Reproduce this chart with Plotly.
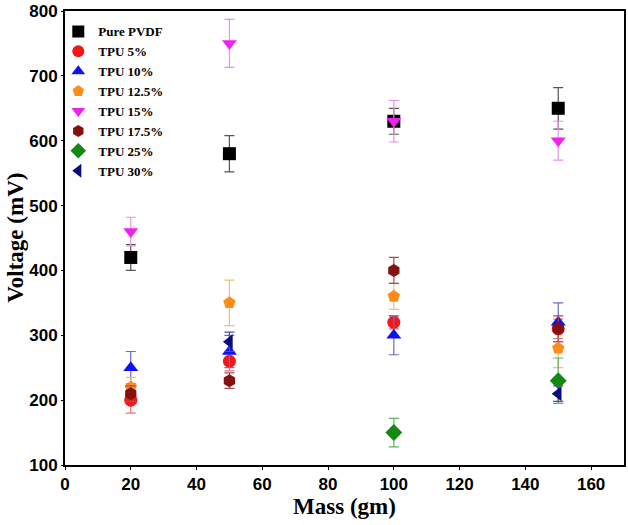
import plotly.graph_objects as go

mass = [20, 50, 100, 150]

series_names = ["Pure PVDF", "TPU 5%", "TPU 10%", "TPU 12.5%", "TPU 15%", "TPU 17.5%", "TPU 25%", "TPU 30%"]
pure_pvdf = [420, 580, 630, 650]
tpu_5 = [200, 260, 320, 310]
tpu_10 = [250, 275, 300, 320]
tpu_12_5 = [220, 350, 360, 280]
tpu_15 = [460, 750, 630, 600]
tpu_17_5 = [210, 230, 400, 310]
tpu_25 = [None, None, 150, 230]
tpu_30 = [None, 290, None, 210]

err_pure_pvdf = [20, 28, 20, 32]
err_tpu_5 = [20, 15, 10, 15]
err_tpu_10 = [25, 25, 30, 30]
err_tpu_12_5 = [15, 35, 20, 30]
err_tpu_15 = [22, 37, 32, 30]
err_tpu_17_5 = [12, 12, 20, 20]
err_tpu_25 = [0, 0, 22, 35]
err_tpu_30 = [0, 15, 0, 12]

values = [pure_pvdf, tpu_5, tpu_10, tpu_12_5, tpu_15, tpu_17_5, tpu_25, tpu_30]
errors = [err_pure_pvdf, err_tpu_5, err_tpu_10, err_tpu_12_5, err_tpu_15, err_tpu_17_5, err_tpu_25, err_tpu_30]
colors = ["#000000", "#f01818", "#1010f0", "#ff8c1a", "#f020f0", "#851010", "#128a12", "#0a0a80"]
err_colors = ["#555555", "#f07070", "#6a6ad0", "#f0c070", "#e890e8", "#a05050", "#60b060", "#5050a0"]
symbols = ["square", "circle", "triangle-up", "pentagon", "triangle-down", "hexagon", "diamond", "triangle-left"]

fig = go.Figure()
for name, v, e, c, ec, s in zip(series_names, values, errors, colors, err_colors, symbols):
    fig.add_trace(go.Scatter(
        x=mass, y=v, mode="markers", name=name,
        marker=dict(symbol=s, color=c, size=13, line=dict(width=0)),
        error_y=dict(type="data", array=e, color=ec, thickness=1.2, width=5),
    ))

fig.add_annotation(
    text="Voltage (mV)", textangle=-90, showarrow=False,
    xref="paper", yref="paper", x=-0.09, y=0.5, xanchor="center", yanchor="middle",
    font=dict(family="Liberation Serif", size=23, color="black", weight="bold"),
)

fig.update_layout(
    width=628, height=525,
    margin=dict(l=65, r=4, t=11, b=60),
    plot_bgcolor="white", paper_bgcolor="white",
    showlegend=True,
    legend=dict(x=-0.012, y=0.988, xanchor="left", yanchor="top",
                font=dict(family="Liberation Serif", size=13, color="black", weight="bold"),
                bgcolor="rgba(0,0,0,0)", tracegroupgap=0, itemsizing="constant"),
    xaxis=dict(range=[0, 170], tickvals=[0, 20, 40, 60, 80, 100, 120, 140, 160],
               automargin=False,
               showline=True, linecolor="black", linewidth=2, mirror=True,
               ticks="outside", ticklen=3, tickcolor="black", showgrid=False, zeroline=False,
               tickfont=dict(family="Liberation Sans", size=17, color="black", weight="bold"),
               title=dict(text="Mass (gm)", standoff=4,
                          font=dict(family="Liberation Serif", size=23, color="black", weight="bold"))),
    yaxis=dict(range=[100, 800], tickvals=[100, 200, 300, 400, 500, 600, 700, 800],
               automargin=False,
               showline=True, linecolor="black", linewidth=2, mirror=True,
               ticks="outside", ticklen=2, tickcolor="black", showgrid=False, zeroline=False,
               tickfont=dict(family="Liberation Sans", size=17, color="black", weight="bold")),
)

fig.write_html("out.html", config={"displayModeBar": False},
               post_script="document.body.style.margin='0';")
